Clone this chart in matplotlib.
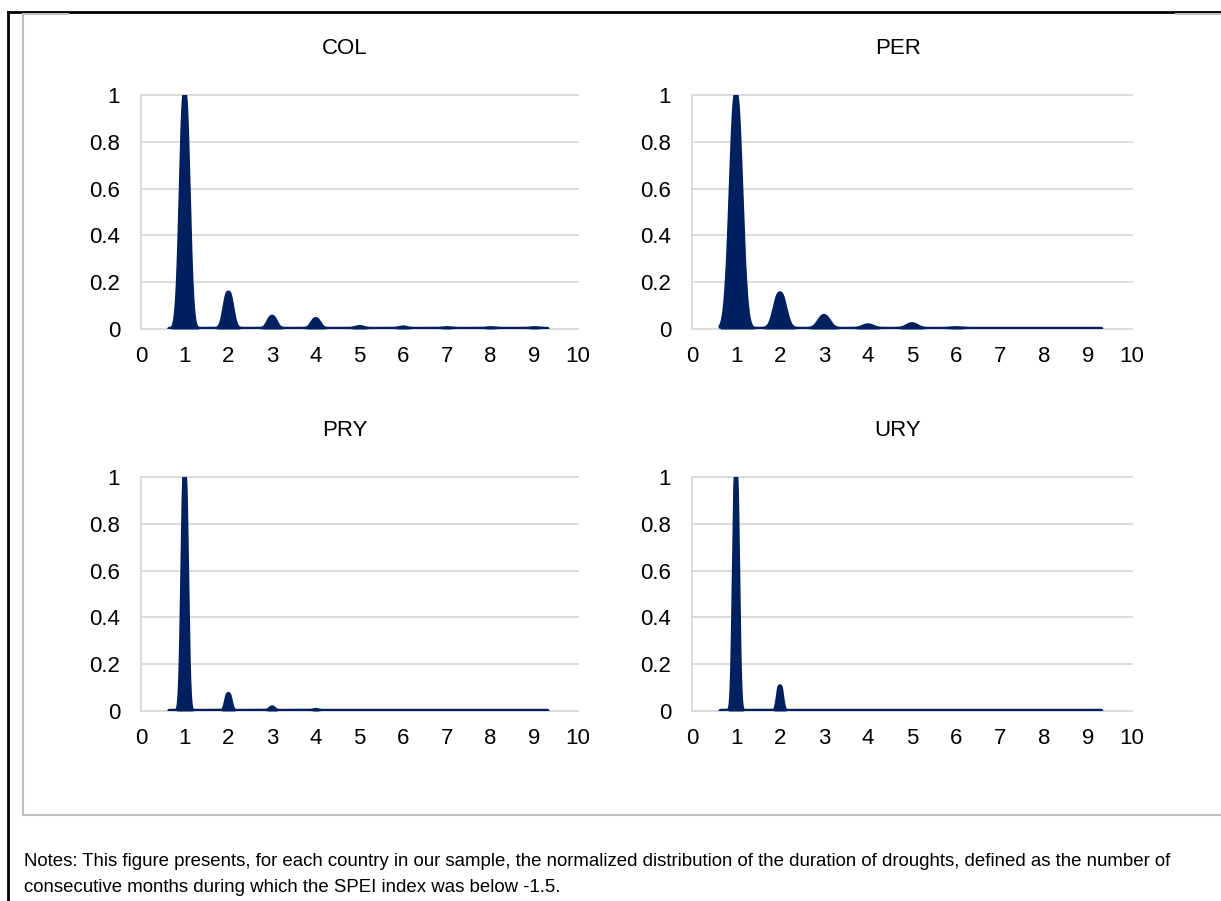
import numpy as np
import matplotlib
matplotlib.use("Agg")
from matplotlib import pyplot as plt
from matplotlib.lines import Line2D

plt.rcParams['font.family'] = ['Liberation Sans', 'DejaVu Sans']

# 各国のデータ（持続期間ごとのピーク高さ、読み取り値）
countries = ["COL", "PER", "PRY", "URY"]
durations = [1, 2, 3, 4, 5, 6, 7, 8, 9]
col_peaks = [1.0, 0.155, 0.052, 0.042, 0.008, 0.006, 0.003, 0.003, 0.003]
per_peaks = [1.0, 0.152, 0.055, 0.015, 0.02, 0.003, 0.0, 0.0, 0.0]
pry_peaks = [1.0, 0.072, 0.015, 0.004, 0.0, 0.0, 0.0, 0.0, 0.0]
ury_peaks = [1.0, 0.105, 0.0, 0.0, 0.0, 0.0, 0.0, 0.0, 0.0]
# 平滑化の幅
bandwidths = [0.085, 0.115, 0.05, 0.045]
x_range = [0.65, 9.3]

x_ticks = [0, 1, 2, 3, 4, 5, 6, 7, 8, 9, 10]
y_ticks = [0, 0.2, 0.4, 0.6, 0.8, 1]
y_labels = ["0", "0.2", "0.4", "0.6", "0.8", "1"]

note_lines = ["Notes: This figure presents, for each country in our sample, the normalized distribution of the duration of droughts, defined as the number of",
              "consecutive months during which the SPEI index was below -1.5."]

navy = "#002060"
grid_c = "#d9d9d9"

fig = plt.figure(figsize=(12.21, 9.01), dpi=100)
W, H = 1221.0, 901.0

# パネル位置（ピクセル）
boxes = [(141, 578, 95, 329), (692, 1132, 95, 329),
         (141, 578, 477, 711), (692, 1132, 477, 711)]
title_pos = [(345, 48), (898, 48), (345, 431), (898, 431)]
all_peaks = [col_peaks, per_peaks, pry_peaks, ury_peaks]

xs = np.linspace(x_range[0], x_range[1], 3000)
for i, name in enumerate(countries):
    x0, x1, y0, y1 = boxes[i]
    ax = fig.add_axes([x0 / W, 1 - y1 / H, (x1 - x0) / W, (y1 - y0) / H])
    s = bandwidths[i]
    ys = np.zeros_like(xs)
    for d, h in zip(durations, all_peaks[i]):
        ys += h * np.exp(-(xs - d) ** 2 / (2 * s ** 2))
    ax.fill_between(xs, 0, ys, color=navy, lw=0, zorder=3)
    ax.plot(xs, ys, color=navy, lw=3.2, solid_capstyle='round', zorder=4)

    ax.set_xlim(0, 10)
    ax.set_ylim(0, 1)
    ax.set_xticks(x_ticks)
    ax.set_yticks(y_ticks)
    ax.set_yticklabels(y_labels)
    ax.tick_params(length=0, labelsize=16)
    ax.tick_params(axis='x', pad=12.5)
    ax.tick_params(axis='y', pad=15)
    for t in y_ticks:
        ax.axhline(t, color=grid_c, lw=1.3, zorder=1, clip_on=False)
    for sp in ["top", "right", "bottom"]:
        ax.spines[sp].set_visible(False)
    ax.spines["left"].set_color(grid_c)
    ax.spines["left"].set_linewidth(1.3)
    fig.text(title_pos[i][0] / W, 1 - title_pos[i][1] / H, name,
             ha='center', va='center', fontsize=16)

# 外枠
fig.add_artist(Line2D([8 / W, 8 / W], [0, 1 - 12 / H], color='black', lw=2))
fig.add_artist(Line2D([8 / W, 1], [1 - 12 / H, 1 - 12 / H], color='black', lw=2))
fig.add_artist(Line2D([23 / W, 23 / W], [1 - 14 / H, 1 - 815 / H], color='#bfbfbf', lw=1.5))
fig.add_artist(Line2D([23 / W, 1], [1 - 815 / H, 1 - 815 / H], color='#bfbfbf', lw=1.5))
fig.add_artist(Line2D([23 / W, 68 / W], [1 - 14 / H, 1 - 14 / H], color='#bfbfbf', lw=1.5))
fig.add_artist(Line2D([1176 / W, 1], [1 - 14 / H, 1 - 14 / H], color='#bfbfbf', lw=1.5))

for k, line in enumerate(note_lines):
    fig.text(24 / W, 1 - (862 + 26 * k) / H, line, ha='left', va='center',
             fontsize=13.4)

fig.savefig("out.png", dpi=100)
plt.close()
